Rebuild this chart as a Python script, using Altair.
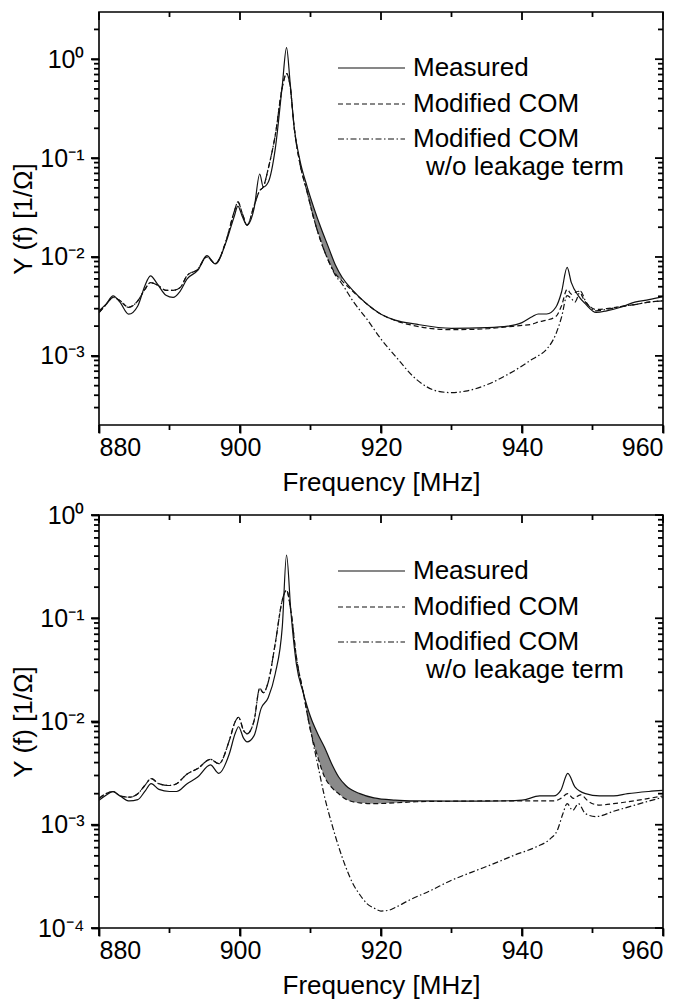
import altair as alt
import pandas as pd

FONT = "Liberation Sans"
INK = "#111111"

# ---------------- top panel data ----------------
top_meas_f = [880, 881, 882, 883, 884.2, 885.5, 886.5, 887.3, 888.3, 889.5, 890.5, 891.5, 892.5, 894,
              895.3, 896.5, 898, 899.2, 899.7, 900.3, 901, 902, 902.8, 903.3, 904, 905, 906, 906.6,
              907.1, 907.7, 908.5, 909.5, 910.5, 911.5, 912.5, 913.5, 914.5, 916, 918, 920, 922, 925,
              930, 935, 938, 940, 941.5, 942.3, 943.5, 944.8, 945.6, 946.4, 947, 948, 949, 950.5,
              952, 954, 956, 958, 960]
top_meas_y = [2.86e-3, 3.34e-3, 4.05e-3, 3.47e-3, 2.64e-3, 3.2e-3, 5.1e-3, 6.45e-3, 5.3e-3, 4.1e-3,
              3.9e-3, 4.5e-3, 6.0e-3, 7.3e-3, 1.03e-2, 8.5e-3, 1.4e-2, 2.6e-2, 3.27e-2, 2.6e-2, 2.1e-2,
              3.1e-2, 6.9e-2, 5.1e-2, 5.7e-2, 0.124, 0.545, 1.31, 0.59, 0.2, 0.095, 0.052, 0.031,
              0.0195, 0.0128, 8.4e-3, 6.2e-3, 4.6e-3, 3.34e-3, 2.64e-3, 2.3e-3, 2.09e-3, 1.9e-3,
              1.93e-3, 2.0e-3, 2.17e-3, 2.5e-3, 2.65e-3, 2.65e-3, 3.1e-3, 4.4e-3, 7.85e-3, 5.5e-3,
              4.05e-3, 3.35e-3, 2.75e-3, 2.85e-3, 3.1e-3, 3.5e-3, 3.7e-3, 3.97e-3]

top_com_f = top_meas_f
top_com_y = [2.74e-3, 3.3e-3, 3.9e-3, 3.6e-3, 3.1e-3, 3.6e-3, 4.7e-3, 5.5e-3, 5.2e-3, 4.6e-3,
             4.6e-3, 4.9e-3, 6.5e-3, 7.5e-3, 1.0e-2, 8.6e-3, 1.44e-2, 2.9e-2, 3.6e-2, 2.8e-2, 2.1e-2,
             3.3e-2, 4.7e-2, 5.1e-2, 7.8e-2, 0.17, 0.52, 0.716, 0.54, 0.2, 0.088, 0.046, 0.024,
             0.0142, 0.0093, 6.8e-3, 5.7e-3, 4.5e-3, 3.34e-3, 2.64e-3, 2.28e-3, 2.0e-3, 1.84e-3,
             1.88e-3, 1.97e-3, 2.03e-3, 2.1e-3, 2.2e-3, 2.3e-3, 2.5e-3, 3.2e-3, 4.7e-3, 4.2e-3,
             4.5e-3, 3.5e-3, 2.95e-3, 3.0e-3, 3.15e-3, 3.3e-3, 3.5e-3, 3.6e-3]

top_nol_f = [880, 881, 882, 883, 884.2, 885.5, 886.5, 887.3, 888.3, 889.5, 890.5, 891.5, 892.5, 894,
             895.3, 896.5, 898, 899.2, 899.7, 900.3, 901, 902, 902.8, 903.3, 904, 905, 906, 906.6,
             907.1, 907.7, 908.5, 909.5, 910.5, 911.5, 912.5, 913.5, 914.5, 916, 918, 920, 922, 925,
             928, 930, 932, 935, 938, 940, 941.5, 942.3, 943.5, 944.8, 945.6, 946.4, 947, 947.5,
             948.3, 949, 950.5, 952, 954, 956, 958, 960]
top_nol_y = [2.74e-3, 3.3e-3, 3.9e-3, 3.6e-3, 3.1e-3, 3.6e-3, 4.7e-3, 5.5e-3, 5.2e-3, 4.6e-3,
             4.6e-3, 4.9e-3, 6.5e-3, 7.5e-3, 1.0e-2, 8.6e-3, 1.44e-2, 2.9e-2, 3.6e-2, 2.8e-2, 2.1e-2,
             3.3e-2, 4.7e-2, 5.1e-2, 7.8e-2, 0.17, 0.52, 0.716, 0.54, 0.2, 0.088, 0.046, 0.024,
             0.0142, 0.0093, 6.6e-3, 5.3e-3, 3.6e-3, 2.35e-3, 1.48e-3, 1.0e-3, 5.8e-4, 4.4e-4,
             4.25e-4, 4.4e-4, 5.1e-4, 6.5e-4, 7.9e-4, 9.3e-4, 1.0e-3, 1.17e-3, 1.66e-3, 2.45e-3,
             4.07e-3, 3.8e-3, 3.5e-3, 4.5e-3, 3.6e-3, 2.85e-3, 2.95e-3, 3.15e-3, 3.3e-3, 3.5e-3,
             3.6e-3]

top_shade_f = [909.5, 910.5, 911.5, 912.5, 913.5, 914.5]
top_shade_hi = [0.052, 0.031, 0.0195, 0.0128, 8.4e-3, 6.2e-3]
top_shade_lo = [0.046, 0.024, 0.0142, 0.0093, 6.8e-3, 5.7e-3]

# ---------------- bottom panel data ----------------
bot_meas_f = [880, 881, 882, 883, 884.3, 885.5, 886.5, 887.4, 888.5, 890, 891, 892.5, 894, 895.8,
              897, 898.5, 899.3, 899.8, 900.5, 901, 902, 903, 904, 905, 906, 906.6, 907.2, 908, 909,
              910, 911, 912, 913, 914, 915, 917, 919, 922, 925, 930, 935, 940, 942.5, 944.5, 945.5,
              946.5, 947.5, 949, 951, 953, 955, 958, 960]
bot_meas_y = [1.73e-3, 1.93e-3, 2.09e-3, 1.9e-3, 1.7e-3, 1.75e-3, 2.1e-3, 2.5e-3, 2.2e-3, 2.1e-3,
              2.1e-3, 2.5e-3, 2.9e-3, 3.8e-3, 3.15e-3, 4.9e-3, 7.6e-3, 8.9e-3, 6.9e-3, 6.35e-3,
              7.3e-3, 1.34e-2, 1.7e-2, 2.9e-2, 8.3e-2, 0.41, 0.12, 3.6e-2, 1.87e-2, 1.11e-2, 7.65e-3,
              5.6e-3, 3.9e-3, 2.9e-3, 2.4e-3, 2.0e-3, 1.82e-3, 1.73e-3, 1.7e-3, 1.69e-3, 1.69e-3,
              1.73e-3, 1.9e-3, 1.9e-3, 2.15e-3, 3.15e-3, 2.33e-3, 2.0e-3, 1.9e-3, 1.9e-3, 2.0e-3,
              2.1e-3, 2.15e-3]

bot_com_f = [880, 881, 882, 883, 884.3, 885.5, 886.5, 887.4, 888.5, 890, 891, 892.5, 894, 895.8,
             897, 898.5, 899.3, 899.8, 900.5, 901, 902, 902.8, 903.3, 904, 905, 906, 906.6, 907.2,
             908, 909, 910, 911, 912, 913, 914, 915, 917, 919, 922, 925, 930, 935, 940, 942.5,
             944.5, 945.5, 946.5, 947.3, 948.3, 949.5, 951, 953, 955, 958, 960]
bot_com_y = [1.8e-3, 2.0e-3, 2.1e-3, 1.9e-3, 1.85e-3, 2.0e-3, 2.4e-3, 2.8e-3, 2.5e-3, 2.4e-3,
             2.5e-3, 3.1e-3, 3.5e-3, 4.3e-3, 3.9e-3, 6.6e-3, 9.9e-3, 1.1e-2, 8.2e-3, 7.6e-3,
             1.02e-2, 2.1e-2, 1.9e-2, 2.4e-2, 5.7e-2, 0.15, 0.187, 0.12, 4.2e-2, 1.87e-2, 8.2e-3,
             4.6e-3, 2.9e-3, 2.3e-3, 2.0e-3, 1.77e-3, 1.63e-3, 1.6e-3, 1.63e-3, 1.67e-3, 1.69e-3,
             1.7e-3, 1.7e-3, 1.7e-3, 1.7e-3, 1.8e-3, 2.0e-3, 1.8e-3, 1.95e-3, 1.67e-3, 1.55e-3,
             1.6e-3, 1.67e-3, 1.8e-3, 1.9e-3]

bot_nol_f = [880, 881, 882, 883, 884.3, 885.5, 886.5, 887.4, 888.5, 890, 891, 892.5, 894, 895.8,
             897, 898.5, 899.3, 899.8, 900.5, 901, 902, 902.8, 903.3, 904, 905, 906, 906.6, 907.2,
             908, 909, 910, 911, 912, 913, 914, 915, 916, 917, 918, 919, 920, 921, 922, 924, 927,
             930, 933, 936, 939, 942, 944, 945, 945.8, 946.4, 947.2, 948, 949, 950.5, 953, 956, 960]
bot_nol_y = [1.8e-3, 2.0e-3, 2.1e-3, 1.9e-3, 1.85e-3, 2.0e-3, 2.4e-3, 2.8e-3, 2.5e-3, 2.4e-3,
             2.5e-3, 3.1e-3, 3.5e-3, 4.3e-3, 3.9e-3, 6.6e-3, 9.9e-3, 1.1e-2, 8.2e-3, 7.6e-3,
             1.02e-2, 2.1e-2, 1.9e-2, 2.4e-2, 5.7e-2, 0.15, 0.187, 0.12, 4.2e-2, 1.87e-2, 8.2e-3,
             3.9e-3, 1.86e-3, 1.03e-3, 6.1e-4, 3.9e-4, 2.7e-4, 2.1e-4, 1.72e-4, 1.56e-4, 1.46e-4,
             1.48e-4, 1.58e-4, 1.86e-4, 2.3e-4, 2.9e-4, 3.5e-4, 4.2e-4, 5.1e-4, 6.1e-4, 7.3e-4,
             8.8e-4, 1.28e-3, 1.6e-3, 1.38e-3, 1.6e-3, 1.28e-3, 1.2e-3, 1.35e-3, 1.55e-3, 1.85e-3]

bot_shade_f = [909, 910, 911, 912, 913, 914, 915, 917, 919, 922, 925]
bot_shade_hi = [1.87e-2, 1.11e-2, 7.65e-3, 5.6e-3, 3.9e-3, 2.9e-3, 2.4e-3, 2.0e-3, 1.82e-3, 1.73e-3, 1.7e-3]
bot_shade_lo = [1.87e-2, 8.2e-3, 4.6e-3, 2.9e-3, 2.3e-3, 2.0e-3, 1.77e-3, 1.63e-3, 1.6e-3, 1.63e-3, 1.67e-3]

legend_labels = ["Measured", "Modified COM", "Modified COM", "w/o leakage term"]
x_major = [880, 900, 920, 940, 960]
x_minor = [890, 910, 930, 950]
y_major = [1e-4, 1e-3, 1e-2, 1e-1, 1]

DASH = [5, 3]
DASHDOT = [6, 2.5, 1.5, 2.5]

LABEL_EXPR = ("datum.value >= 0.5 ? '10⁰' : datum.value >= 0.05 ? '10⁻¹' : "
              "datum.value >= 0.005 ? '10⁻²' : datum.value >= 0.0005 ? '10⁻³' : '10⁻⁴'")

W = 564
H = 413
TICK_W = 1.8
TICK_C = "#000000"
MAJ = 8
MIN = 5


def minor_vals(lo, hi):
    out = []
    for e in range(-5, 2):
        for k in range(2, 10):
            v = k * 10.0 ** e
            if lo * 1.0001 < v < hi * 0.9999:
                out.append(v)
    return out


def panel(dom, meas, com, nol, shade, leg_y):
    xs = alt.Scale(domain=[880, 960], nice=False, zero=False)
    ys = alt.Scale(type="log", domain=dom, nice=False)

    ax_bottom = alt.Axis(orient="bottom", values=x_major, format="d", domain=False, grid=False,
                         ticks=True, tickSize=MAJ, tickColor=TICK_C, tickWidth=TICK_W,
                         labelFontSize=25, labelFont=FONT, labelColor="black", labelPadding=2,
                         title="Frequency [MHz]", titleFontSize=26, titleFont=FONT,
                         titleFontWeight="normal", titleColor="black", titlePadding=9)
    ymaj = [v for v in y_major if dom[0] * 0.999 <= v <= dom[1] * 1.001]
    ymin = minor_vals(dom[0], dom[1])
    ax_left = alt.Axis(orient="left", values=ymaj, labelExpr=LABEL_EXPR, domain=False, grid=False,
                       ticks=True, tickSize=MAJ, tickColor=TICK_C, tickWidth=TICK_W,
                       labelFontSize=25, labelFont=FONT, labelColor="black", labelPadding=7,
                       minExtent=50, maxExtent=50,
                       title="Y (f) [1/Ω]", titleFontSize=26, titleFont=FONT,
                       titleFontWeight="normal", titleColor="black", titlePadding=13)

    sf, shi, slo = shade
    area = alt.Chart(pd.DataFrame({"f": sf, "hi": shi, "lo": slo})).mark_area(
        color="#8a8a8a", opacity=1, interpolate="monotone", clip=True
    ).encode(
        x=alt.X("f:Q", scale=xs, axis=None),
        y=alt.Y("hi:Q", scale=ys, axis=None),
        y2="lo:Q",
    )

    def line(data, dash, xaxis, yaxis):
        f, y = data
        kw = dict(color=INK, strokeWidth=1.2, interpolate="monotone", clip=True)
        if dash:
            kw["strokeDash"] = dash
        return alt.Chart(pd.DataFrame({"f": f, "y": y})).mark_line(**kw).encode(
            x=alt.X("f:Q", scale=xs, axis=xaxis),
            y=alt.Y("y:Q", scale=ys, axis=yaxis),
        )

    l_nol = line(nol, DASHDOT, None, None)
    l_com = line(com, DASH, None, None)
    l_meas = line(meas, None, ax_bottom, ax_left)

    # tick marks on all four sides (left/bottom outward, top/right inward)
    def yticks(vals, xa, xb):
        return alt.Chart(pd.DataFrame({"tv": vals})).mark_rule(
            color=TICK_C, strokeWidth=TICK_W, opacity=1
        ).encode(y=alt.Y("tv:Q", scale=ys, axis=None), x=alt.value(xa), x2=alt.value(xb))

    def xticks(vals, ya, yb):
        return alt.Chart(pd.DataFrame({"tv": vals})).mark_rule(
            color=TICK_C, strokeWidth=TICK_W, opacity=1
        ).encode(x=alt.X("tv:Q", scale=xs, axis=None), y=alt.value(ya), y2=alt.value(yb))

    ticks = [
        yticks(ymaj, -MAJ, 0), yticks(ymin, -MIN, 0),
        yticks(ymaj, W - MAJ, W), yticks(ymin, W - MIN, W),
        xticks(x_major, H, H + MAJ), xticks(x_minor, H, H + MIN),
        xticks(x_major, 0, MAJ), xticks(x_minor, 0, MIN),
    ]

    one = pd.DataFrame({"a": [0]})
    x0, x1, xt = 239, 306, 314
    leg = []
    dashes = [None, DASH, DASHDOT]
    for i in range(3):
        kw = dict(color=INK, strokeWidth=1.2)
        if dashes[i]:
            kw["strokeDash"] = dashes[i]
        leg.append(alt.Chart(one).mark_rule(**kw).encode(
            x=alt.value(x0), x2=alt.value(x1), y=alt.value(leg_y[i])))
    for i, lab in enumerate(legend_labels):
        leg.append(alt.Chart(one).mark_text(
            align="left", baseline="middle", fontSize=26, font=FONT, color="black", text=lab
        ).encode(x=alt.value(xt + (13 if i == 3 else 0)), y=alt.value(leg_y[i])))

    return alt.layer(area, l_nol, l_com, l_meas, *ticks, *leg).resolve_axis(
        x="independent", y="independent"
    ).properties(width=W, height=H)


top = panel([2e-4, 3],
            (top_meas_f, top_meas_y), (top_com_f, top_com_y), (top_nol_f, top_nol_y),
            (top_shade_f, top_shade_hi, top_shade_lo), [56, 92, 127, 155])
bottom = panel([1e-4, 1],
               (bot_meas_f, bot_meas_y), (bot_com_f, bot_com_y), (bot_nol_f, bot_nol_y),
               (bot_shade_f, bot_shade_hi, bot_shade_lo), [56, 92, 127, 155])

chart = alt.vconcat(top, bottom, spacing=6).properties(
    padding={"left": 1, "right": 5, "top": 2, "bottom": 2}
).configure_view(stroke="black", strokeWidth=1.6)

chart.save("out.html", embed_options={"renderer": "svg", "actions": False})
